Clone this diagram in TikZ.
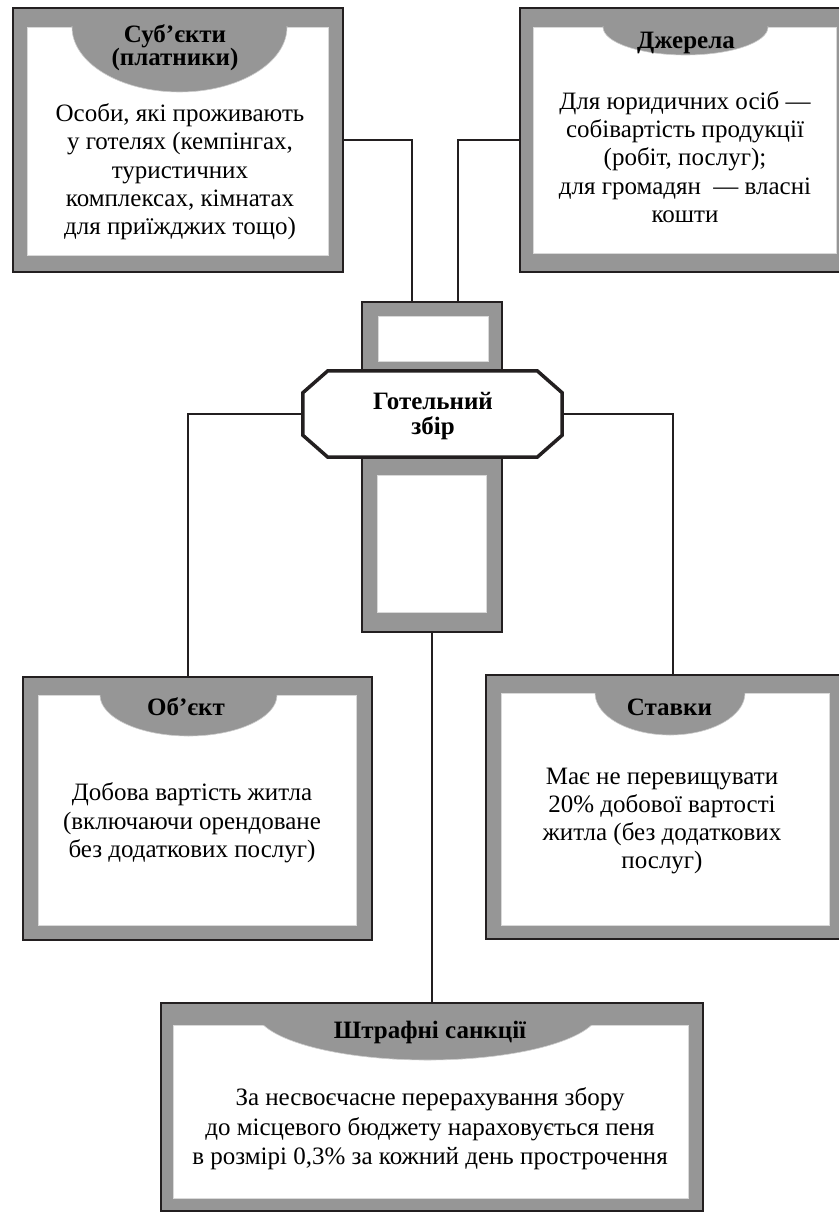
\documentclass[tikz,border=0pt]{standalone}
\usepackage{fontspec}
\setmainfont{Liberation Serif}
\definecolor{panelgray}{RGB}{150,150,150}
\definecolor{inkline}{RGB}{35,31,32}
\tikzset{
  x=1pt, y=-1pt,
  outerbox/.style={rectangle, draw=inkline, line width=1.4pt, fill=panelgray, inner sep=0pt},
  innerbox/.style={fill=white, draw=white!85!black, line width=0.8pt},
  capfill/.style={fill=panelgray, draw=white!80!black, line width=0.6pt},
  headtext/.style={font=\fontsize{25}{23}\selectfont\bfseries, align=center, inner sep=0pt},
  bodytext/.style={font=\fontsize{25}{28.3}\selectfont, align=center, inner sep=0pt},
  link/.style={draw=inkline, line width=1.8pt},
  hubline/.style={draw=inkline, line width=3.5pt, fill=white, line join=miter}
}
\begin{document}
\begin{tikzpicture}
\useasboundingbox (0,0) rectangle (838,1212);

% ---- outer panels ----
\node[outerbox, minimum width=330pt, minimum height=264pt] (subj)  at (178,140) {};
\node[outerbox, minimum width=331pt, minimum height=264pt] (src)   at (685.5,140) {};
\node[outerbox, minimum width=140pt, minimum height=330pt] (frame) at (432,467) {};
\node[outerbox, minimum width=349pt, minimum height=263pt] (obj)   at (197.5,808.5) {};
\node[outerbox, minimum width=359pt, minimum height=264pt] (rates) at (665.5,807) {};
\node[outerbox, minimum width=542pt, minimum height=208pt] (fines) at (432,1107) {};

% ---- connectors ----
\node[minimum width=259pt, minimum height=86pt, inner sep=0pt] (hub) at (432.5,414) {};
\draw[link] (subj.east) -| ([xshift=-20pt]frame.north);
\draw[link] (src.west) -| ([xshift=26pt]frame.north);
\draw[link] (hub.west) -| ([xshift=-9.5pt]obj.north);
\draw[link] (hub.east) -| ([xshift=7.5pt]rates.north);
\draw[link] (frame.south) -- (fines.north);

% ---- white panels and caps ----
\draw[innerbox] (27,27) rectangle (328,255);
\begin{scope}
  \clip (27,27) rectangle (328,255);
  \draw[capfill] (179.5,27) ellipse [x radius=107.5, y radius=65];
\end{scope}

\draw[innerbox] (533,27) rectangle (836,253);
\begin{scope}
  \clip (533,27) rectangle (836,253);
  \draw[capfill] (685.5,27) ellipse [x radius=82.5, y radius=28];
\end{scope}

\draw[innerbox] (378,316) rectangle (488,361);
\draw[innerbox] (377,475) rectangle (486,612);

\draw[innerbox] (38,695) rectangle (356,925);
\begin{scope}
  \clip (38,695) rectangle (356,925);
  \draw[capfill] (188.5,695) ellipse [x radius=88.5, y radius=41];
\end{scope}

\draw[innerbox] (501,693) rectangle (829,925);
\begin{scope}
  \clip (501,693) rectangle (829,925);
  \draw[capfill] (670,693) ellipse [x radius=75, y radius=42];
\end{scope}

\draw[innerbox] (173,1025) rectangle (688,1198);
\begin{scope}
  \clip (173,1025) rectangle (688,1198);
  \draw[capfill] (427.5,1010) ellipse [x radius=172, y radius=50];
\end{scope}

% ---- central octagon ----
\draw[hubline]
  ([xshift=25pt]hub.north west) -- ([xshift=-25pt]hub.north east)
  -- ([yshift=-22pt]hub.north east) -- ([yshift=22pt]hub.south east)
  -- ([xshift=-25pt]hub.south east) -- ([xshift=25pt]hub.south west)
  -- ([yshift=22pt]hub.south west) -- ([yshift=-22pt]hub.north west) -- cycle;
\node[headtext, font=\fontsize{25}{25}\selectfont\bfseries] (hubtext) at (433,416) {Готельний\\збір};

% ---- headings ----
\node[headtext] (subj-head)  at (175,48)   {Суб’єкти\\(платники)};
\node[headtext] (src-head)   at (686,43)   {Джерела};
\node[headtext] (obj-head)   at (186,707)  {Об’єкт};
\node[headtext] (rates-head) at (669.5,707) {Ставки};
\node[headtext] (fines-head) at (430,1032) {Штрафні санкції};

% ---- texts ----
\node[bodytext] (subj-text) at (180,172)
  {Особи, які проживають\\у готелях (кемпінгах,\\туристичних\\комплексах, кімнатах\\для приїжджих тощо)};
\node[bodytext] (src-text) at (685,157)
  {Для юридичних осіб —\\собівартість продукції\\(робіт, послуг);\\для громадян \ — власні\\кошти};
\node[bodytext] (obj-text) at (192,823)
  {Добова вартість житла\\(включаючи орендоване\\без додаткових послуг)};
\node[bodytext] (rates-text) at (662,821)
  {Має не перевищувати\\20\% добової вартості\\житла (без додаткових\\послуг)};
\node[bodytext, font=\fontsize{25}{29.5}\selectfont] (fines-text) at (430,1129)
  {За несвоєчасне перерахування збору\\до місцевого бюджету нараховується пеня\\в розмірі 0,3\% за кожний день прострочення};
\end{tikzpicture}
\end{document}
